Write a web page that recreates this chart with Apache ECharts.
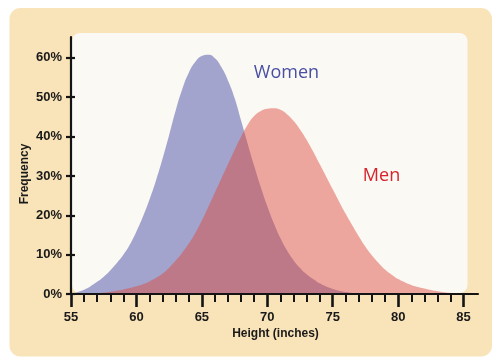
<!DOCTYPE html>
<html>
<head>
<meta charset="utf-8">
<script src="https://cdn.jsdelivr.net/npm/echarts@6/dist/echarts.min.js"></script>
<style>
html,body{margin:0;padding:0;background:#ffffff;}
#chart{width:500px;height:363px;}
</style>
</head>
<body>
<div id="chart"></div>
<script>
// Tick values
const xMajorTicks = [55, 60, 65, 70, 75, 80, 85];
const xMinorTicks = [56, 57, 58, 59, 61, 62, 63, 64, 66, 67, 68, 69, 71, 72, 73, 74, 76, 77, 78, 79, 81, 82, 83, 84];
const yTicks = [0, 10, 20, 30, 40, 50, 60];

// Women height distribution (inches, % frequency)
const womenHeight = [55, 55.5, 56, 56.5, 57, 57.5, 58, 58.5, 59, 59.5, 60, 60.5, 61, 61.5, 62, 62.5, 63, 63.5, 64, 64.5, 65, 65.5, 66, 66.5, 67, 67.5, 68, 68.5, 69, 69.5, 70, 70.5, 71, 71.5, 72, 72.5, 73, 73.5, 74, 74.5, 75, 75.5, 76, 76.5, 77, 77.5];
const womenFreq   = [0, 0.5, 1.1, 2.0, 3.1, 4.4, 6.0, 7.9, 10.0, 12.6, 15.9, 19.7, 24.0, 28.9, 34.4, 40.4, 46.6, 52.0, 56.2, 59.0, 60.5, 60.8, 59.9, 57.6, 54.2, 49.8, 44.0, 38.2, 32.5, 27.2, 22.3, 18.0, 14.2, 11.1, 8.6, 6.6, 5.0, 3.8, 2.7, 1.9, 1.3, 0.85, 0.5, 0.25, 0.1, 0];

// Men height distribution (inches, % frequency)
const menHeight = [56.5, 57, 57.5, 58, 58.5, 59, 59.5, 60, 60.5, 61, 61.5, 62, 62.5, 63, 63.5, 64, 64.5, 65, 65.5, 66, 66.5, 67, 67.5, 68, 68.5, 69, 69.5, 70, 70.5, 71, 71.5, 72, 72.5, 73, 73.5, 74, 74.5, 75, 75.5, 76, 76.5, 77, 77.5, 78, 78.5, 79, 79.5, 80, 80.5, 81, 81.5, 82, 82.5, 83, 83.5, 84, 84.5, 85];
const menFreq   = [0, 0.15, 0.35, 0.6, 0.85, 1.15, 1.5, 1.95, 2.5, 3.2, 4.1, 5.2, 6.7, 8.5, 10.5, 12.8, 15.5, 18.7, 22.2, 25.8, 29.4, 33.0, 36.6, 40.0, 43.0, 45.2, 46.5, 47.1, 47.2, 46.8, 45.7, 44.0, 41.8, 39.2, 36.2, 33.0, 29.8, 26.6, 23.4, 20.3, 17.4, 14.6, 12.0, 9.8, 7.9, 6.2, 4.9, 3.8, 3.0, 2.3, 1.8, 1.4, 1.0, 0.7, 0.45, 0.25, 0.1, 0];

const seriesNames = ['Women', 'Men'];

const womenData = womenHeight.map((h, i) => [h, womenFreq[i]]);
const menData = menHeight.map((h, i) => [h, menFreq[i]]);

const chart = echarts.init(document.getElementById('chart'), null, {renderer: 'canvas'});
const axisColor = '#141414';
const labelFont = {fontFamily: 'Liberation Sans', fontWeight: 'bold', fontSize: 13, color: '#1a1a1a'};

chart.setOption({
  animation: false,
  backgroundColor: '#ffffff',
  grid: {left: 71, right: 22, top: 37, bottom: 69, containLabel: false},
  xAxis: [
    {
      type: 'value', min: 55, max: 86.1, position: 'bottom', z: 10,
      axisLine: {show: true, lineStyle: {color: axisColor, width: 2.2}},
      axisTick: {show: true, customValues: xMajorTicks, length: 13, lineStyle: {color: axisColor, width: 2.6}},
      axisLabel: Object.assign({show: true, customValues: xMajorTicks, margin: 17}, labelFont),
      splitLine: {show: false}
    },
    {
      type: 'value', min: 55, max: 86.1, position: 'bottom', z: 10,
      axisLine: {show: false},
      axisTick: {show: true, customValues: xMinorTicks, length: 8, lineStyle: {color: axisColor, width: 2}},
      axisLabel: {show: false},
      splitLine: {show: false}
    }
  ],
  yAxis: [
    {
      type: 'value', min: 0, max: 65.3, position: 'left', z: 10,
      axisLine: {show: true, lineStyle: {color: axisColor, width: 2.2}},
      axisTick: {show: true, customValues: yTicks, length: 5, lineStyle: {color: axisColor, width: 2.2}},
      axisLabel: Object.assign({show: true, customValues: yTicks, margin: 9, formatter: v => v + '%'}, labelFont),
      splitLine: {show: false}
    },
    {
      type: 'value', min: 0, max: 65.3, position: 'left', offset: 0, z: 10,
      axisLine: {show: false},
      axisTick: {show: true, inside: true, customValues: yTicks, length: 4, lineStyle: {color: axisColor, width: 2.2}},
      axisLabel: {show: false},
      splitLine: {show: false}
    }
  ],
  graphic: [
    {type: 'rect', z: -10, shape: {x: 9.5, y: 8, width: 482.5, height: 348.5, r: 11}, style: {fill: '#F9E3B8'}},
    {type: 'rect', z: -9, shape: {x: 72, y: 33, width: 395.5, height: 260, r: 8}, style: {fill: '#FBF9F3'}},
    {type: 'text', z: 100, x: 286.5, y: 72.5, style: {text: seriesNames[0], font: '18px "Open Sans"', fill: '#4A4FA6', textAlign: 'center', verticalAlign: 'middle'}},
    {type: 'text', z: 100, x: 381.5, y: 176, style: {text: seriesNames[1], font: '18px "Open Sans"', fill: '#D6232C', textAlign: 'center', verticalAlign: 'middle'}},
    {type: 'text', z: 100, x: 25, y: 174, rotation: Math.PI / 2, style: {text: 'Frequency', font: 'bold 12px "Liberation Sans"', fill: '#1a1a1a', textAlign: 'center', verticalAlign: 'middle'}},
    {type: 'text', z: 100, x: 275.5, y: 333.5, style: {text: 'Height (inches)', font: 'bold 12px "Liberation Sans"', fill: '#1a1a1a', textAlign: 'center', verticalAlign: 'middle'}}
  ],
  series: [
    {
      name: seriesNames[0], type: 'line', xAxisIndex: 0, yAxisIndex: 0,
      data: womenData, smooth: true, symbol: 'none', clip: true,
      lineStyle: {width: 0},
      areaStyle: {color: 'rgb(73,80,168)', opacity: 0.5}
    },
    {
      name: seriesNames[1], type: 'line', xAxisIndex: 0, yAxisIndex: 0,
      data: menData, smooth: true, symbol: 'none', clip: true,
      lineStyle: {width: 0},
      areaStyle: {color: 'rgb(221,73,62)', opacity: 0.47}
    }
  ]
});
</script>
</body>
</html>
